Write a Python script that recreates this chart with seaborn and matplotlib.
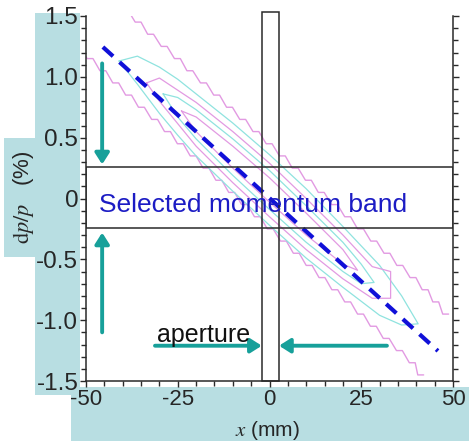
import matplotlib
matplotlib.use("Agg")
import matplotlib.pyplot as plt
import seaborn as sns
from matplotlib.patches import Rectangle
from matplotlib.ticker import MultipleLocator

# dispersion line (dashed), end points
chirp_x = [-45.4, 45.9]
chirp_dp = [1.245, -1.253]

# selection windows
aperture_x = [-2.1, 2.6]
aperture_dp = [-1.5, 1.53]
band_dp = [-0.24, 0.26]

# outermost contour, stepped edges: start x of each step row and its dp level
upper_edge_x = [-40.2, -36.6, -33.2, -29.5, -25.9, -22.5, -18.8, -15.2, -11.7, -8.1, -4.5, -0.9, 2.7,
                6.2, 9.8, 13.3, 16.9, 20.5, 24.0, 27.6, 31.2, 34.7, 38.3, 41.6, 44.5, 47.2]
upper_edge_dp = [1.55, 1.45, 1.35, 1.25, 1.15, 1.05, 0.95, 0.85, 0.75, 0.65, 0.55, 0.45, 0.35,
                 0.25, 0.15, 0.05, -0.05, -0.15, -0.25, -0.35, -0.45, -0.55, -0.65, -0.75, -0.85, -0.95]
lower_edge_x = [-53.2, -49.7, -46.2, -42.7, -39.2, -35.7, -32.1, -28.6, -25.1, -21.6, -18.1, -14.6, -11.1, -7.6,
                -4.1, -0.6, 3.0, 6.5, 10.0, 13.5, 17.0, 20.5, 24.0, 27.5, 31.0, 34.6, 38.1, 40.4]
lower_edge_dp = [1.25, 1.15, 1.05, 0.95, 0.85, 0.75, 0.65, 0.55, 0.45, 0.35, 0.25, 0.15, 0.05, -0.05,
                 -0.15, -0.25, -0.35, -0.45, -0.55, -0.65, -0.75, -0.85, -0.95, -1.05, -1.15, -1.25, -1.35, -1.45]

# inner contour loops
cyan_outer_x = [-41, -36, -30, -25, -20, -10, 0, 10, 20, 30, 36, 40.5, 36, 30, 20, 10, 0, -10, -20, -25, -30, -36]
cyan_outer_dp = [1.13, 1.17, 1.08, 0.98, 0.86, 0.62, 0.36, 0.08, -0.23, -0.55, -0.80, -1.03,
                 -1.04, -0.96, -0.73, -0.49, -0.22, 0.06, 0.35, 0.52, 0.70, 0.94]
pink_outer_x = [-33.5, -30, -20, -10, 0, 10, 20, 28, 33, 33, 28, 20, 10, 0, -10, -20, -30]
pink_outer_dp = [0.95, 0.99, 0.79, 0.55, 0.29, 0.00, -0.30, -0.56, -0.60, -0.82, -0.82, -0.66,
                 -0.42, -0.15, 0.13, 0.43, 0.80]
cyan_inner_x = [-29, -25, -20, -10, 0, 10, 20, 25, 28.5, 25, 20, 10, 0, -10, -20, -25]
cyan_inner_dp = [0.86, 0.83, 0.73, 0.49, 0.23, -0.06, -0.36, -0.54, -0.69, -0.70, -0.60, -0.36,
                 -0.09, 0.19, 0.49, 0.67]
pink_inner_x = [-24, -20, -10, 0, 10, 20, 24, 20, 10, 0, -10, -20]
pink_inner_dp = [0.72, 0.67, 0.43, 0.17, -0.12, -0.42, -0.59, -0.54, -0.30, -0.03, 0.25, 0.55]

# arrows: (tail, head)
arrows = [((-45.6, 1.11), (-45.6, 0.28)),
          ((-45.6, -1.10), (-45.6, -0.28)),
          ((-31.2, -1.21), (-2.1, -1.21)),
          ((32.0, -1.21), (2.6, -1.21))]

xtick_vals = [-50, -25, 0, 25, 50]
xtick_labels = ["-50", "-25", "0", "25", "50"]
ytick_vals = [1.5, 1.0, 0.5, 0, -0.5, -1.0, -1.5]
ytick_labels = ["1.5", "1.0", "0.5", "0", "-0.5", "-1.0", "-1.5"]

PINK = "#e29ae2"
CYAN = "#8fe3df"
TEAL = "#17a09a"
DARK = "#2a2a2a"
BOXBLUE = "#b8dee2"
STEP_RUN = 1.6

sns.set_theme(style="ticks")
plt.rcParams["font.family"] = ["Liberation Sans", "DejaVu Sans"]
plt.rcParams["mathtext.fontset"] = "stix"
plt.rcParams["axes.unicode_minus"] = False

W, H = 469, 441
fig = plt.figure(figsize=(W / 100, H / 100), dpi=100)
fig.patch.set_facecolor("white")

# light blue highlight boxes behind the labels (pixel boxes: x0, y0, x1, y1 from top-left)
for x0, y0, x1, y1 in [(35, 13, 80, 395), (4, 138, 35, 257), (71, 387, 469, 441)]:
    fig.patches.append(Rectangle((x0 / W, 1 - y1 / H), (x1 - x0) / W, (y1 - y0) / H,
                                 transform=fig.transFigure, facecolor=BOXBLUE, edgecolor="none", zorder=-5))

ax = fig.add_axes([86 / W, 60 / H, 367 / W, 365 / H])
ax.set_facecolor("none")
ax.set_zorder(2)


def stepped(xs, dps):
    vx, vy = [], []
    for x, d in zip(xs, dps):
        vx += [x, x + STEP_RUN]
        vy += [d, d]
    return vx, vy


for xs, dps in [(upper_edge_x, upper_edge_dp), (lower_edge_x, lower_edge_dp)]:
    vx, vy = stepped(xs, dps)
    sns.lineplot(x=vx, y=vy, sort=False, estimator=None, color=PINK, lw=1.0, ax=ax)

for xs, dps, col in [(cyan_outer_x, cyan_outer_dp, CYAN), (pink_outer_x, pink_outer_dp, PINK),
                     (cyan_inner_x, cyan_inner_dp, CYAN), (pink_inner_x, pink_inner_dp, PINK)]:
    sns.lineplot(x=xs + xs[:1], y=dps + dps[:1], sort=False, estimator=None, color=col, lw=0.9, ax=ax)

sns.lineplot(x=chirp_x, y=chirp_dp, sort=False, estimator=None, color="#1010d8", lw=3.0,
             linestyle=(0, (3.3, 2.1)), ax=ax)

# momentum band and aperture
ax.add_patch(Rectangle((-50, band_dp[0]), 100, band_dp[1] - band_dp[0], fill=False,
                       edgecolor=DARK, lw=1.1, zorder=4))
ax.add_patch(Rectangle((aperture_x[0], aperture_dp[0]), aperture_x[1] - aperture_x[0],
                       aperture_dp[1] - aperture_dp[0], fill=False, edgecolor=DARK, lw=1.1,
                       zorder=4, clip_on=False))

for tail, head in arrows:
    ax.annotate("", xy=head, xytext=tail,
                arrowprops=dict(arrowstyle="-|>,head_length=0.55,head_width=0.35", color=TEAL,
                                lw=2.8, shrinkA=0, shrinkB=0, mutation_scale=12), zorder=5)

ax.text(-46.5, -0.11, "Selected momentum band", color="#1c1cc4", fontsize=19, va="baseline", zorder=6)
ax.text(-30.6, -1.18, "aperture", color="#111111", fontsize=18, va="baseline", zorder=6)

ax.set_xlim(-50, 50)
ax.set_ylim(-1.5, 1.5)
ax.set_xticks(xtick_vals, labels=xtick_labels)
ax.set_yticks(ytick_vals, labels=ytick_labels)
ax.xaxis.set_minor_locator(MultipleLocator(5))
ax.yaxis.set_minor_locator(MultipleLocator(0.1))
ax.tick_params(which="both", direction="out", color=DARK, width=1.0)
ax.tick_params(which="major", length=4)
ax.tick_params(which="minor", length=3.5)
ax.tick_params(axis="y", which="both", right=True, labelright=False, labelsize=17.5, pad=1.5)
ax.tick_params(axis="x", labelsize=16, pad=1.5)
ax.spines["top"].set_visible(False)
for s in ["left", "right", "bottom"]:
    ax.spines[s].set_color(DARK)
    ax.spines[s].set_linewidth(1.1)
ax.set_xlabel("")
ax.set_ylabel("")

fig.text(23 / W, 1 - 197 / H, r"$\mathrm{d}p/p$   (%)", rotation=90, ha="center", va="center", fontsize=16)
fig.text(267 / W, 1 - 431 / H, r"$x$ (mm)", ha="center", va="center", fontsize=15)

fig.savefig("out.png", dpi=100)
